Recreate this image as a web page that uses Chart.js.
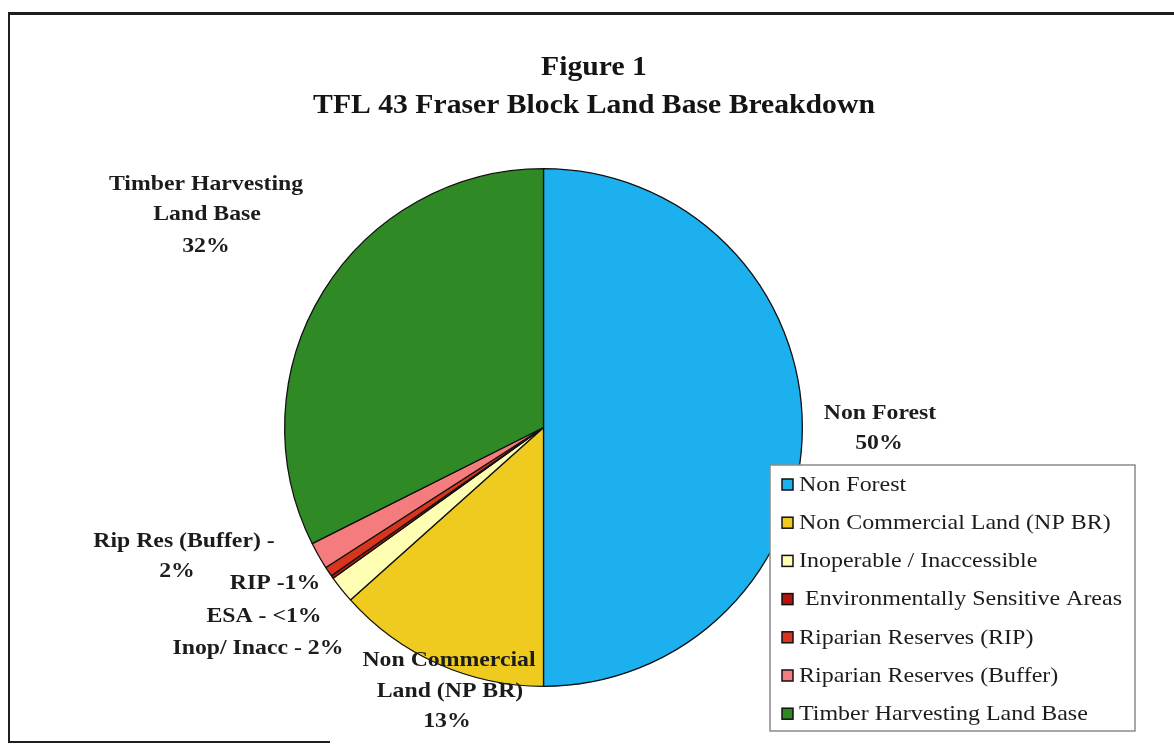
<!DOCTYPE html>
<html>
<head>
<meta charset="utf-8">
<title>TFL 43 Fraser Block Land Base Breakdown</title>
<script src="https://cdn.jsdelivr.net/npm/chart.js@4.4.1/dist/chart.umd.min.js"></script>
<style>
  html, body { margin: 0; padding: 0; background: #fff; }
  #wrap { position: relative; width: 1174px; height: 747px; }
</style>
</head>
<body>
<div id="wrap"><canvas id="chart" width="1174" height="747"></canvas></div>
<script>
// land base categories, in the order the pie runs clockwise from 12 o'clock
const categories = [
  'Non Forest',
  'Non Commercial Land (NP BR)',
  'Inoperable / Inaccessible',
  ' Environmentally Sensitive Areas',
  'Riparian Reserves (RIP)',
  'Riparian Reserves (Buffer)',
  'Timber Harvesting Land Base'
];
// percent of total area
const shares = [50, 13.4, 1.7, 0.2, 0.6, 1.7, 32.4];
const sliceColors = ['#1cb0ee', '#efcb1f', '#ffffb4', '#b3140f', '#d8351f', '#f47c7c', '#2f8a26'];
// callout text, {p} is replaced by the rounded share
const calloutText = [
  ['Non Forest', '{p}'],
  ['Non Commercial', 'Land (NP BR)', '{p}'],
  ['Inop/ Inacc - {p}'],
  ['ESA - {p}'],
  ['RIP -{p}'],
  ['Rip Res (Buffer) -', '{p}'],
  ['Timber Harvesting', 'Land Base', '{p}']
];
const titleLines = ['Figure 1', 'TFL 43 Fraser Block Land Base Breakdown'];

// where each callout line sits (centre x, middle y)
const calloutSpots = [
  [[880, 413], [879, 443]],
  [[449, 660], [450, 691], [447, 721]],
  [[258, 648]],
  [[264, 616]],
  [[275, 583]],
  [[184, 541], [177, 571]],
  [[206, 184], [207, 214], [206, 246]]
];

function pct(v) {
  return Math.round(v) < 1 ? '<1%' : Math.round(v) + '%';
}

const serif = '"Liberation Serif", "Times New Roman", serif';

// the document fonts run a little wide, so stretch text horizontally
function wideText(ctx, text, x, y, sx) {
  ctx.save();
  ctx.translate(x, y);
  ctx.scale(sx, 1);
  ctx.fillText(text, 0, 0);
  ctx.restore();
}

const decorations = {
  id: 'decorations',
  afterDraw(chart) {
    const ctx = chart.ctx;
    ctx.save();

    // page frame
    ctx.strokeStyle = '#1e1e1e';
    ctx.lineWidth = 3;
    ctx.beginPath();
    ctx.moveTo(8, 13.5); ctx.lineTo(1174, 13.5);
    ctx.stroke();
    ctx.lineWidth = 2;
    ctx.beginPath();
    ctx.moveTo(9, 13); ctx.lineTo(9, 743);
    ctx.moveTo(8, 742); ctx.lineTo(330, 742);
    ctx.stroke();

    // title
    ctx.fillStyle = '#141414';
    ctx.textAlign = 'center';
    ctx.textBaseline = 'middle';
    ctx.font = 'bold 28px ' + serif;
    wideText(ctx, titleLines[0], 594, 68, 1.06);
    wideText(ctx, titleLines[1], 594, 106, 1.06);

    // slice callouts
    ctx.font = 'bold 22px ' + serif;
    ctx.fillStyle = '#1c1c1c';
    calloutText.forEach((lines, i) => {
      lines.forEach((t, j) => {
        const [x, y] = calloutSpots[i][j];
        wideText(ctx, t.replace('{p}', pct(shares[i])), x, y, 1.08);
      });
    });

    // legend box
    const lx = 770, ly = 465, lw = 365, lh = 266;
    ctx.fillStyle = '#fff';
    ctx.fillRect(lx, ly, lw, lh);
    ctx.strokeStyle = '#8a8a8a';
    ctx.lineWidth = 1.5;
    ctx.strokeRect(lx, ly, lw, lh);
    ctx.font = '22px ' + serif;
    ctx.textAlign = 'left';
    categories.forEach((name, i) => {
      const y = 484 + i * 38.2;
      ctx.fillStyle = sliceColors[i];
      ctx.fillRect(782, y - 5, 11, 11);
      ctx.strokeStyle = '#111';
      ctx.lineWidth = 1.5;
      ctx.strokeRect(782, y - 5, 11, 11);
      ctx.fillStyle = '#1c1c1c';
      wideText(ctx, name, 799, y + 1, 1.09);
    });

    ctx.restore();
  }
};

new Chart(document.getElementById('chart'), {
  type: 'pie',
  data: {
    labels: categories,
    datasets: [{
      data: shares,
      backgroundColor: sliceColors,
      borderColor: '#111',
      borderWidth: 1.3
    }]
  },
  options: {
    responsive: false,
    animation: false,
    layout: { padding: { left: 284, right: 371, top: 168, bottom: 60 } },
    plugins: {
      legend: { display: false },
      tooltip: { enabled: false }
    }
  },
  plugins: [decorations]
});
</script>
</body>
</html>
